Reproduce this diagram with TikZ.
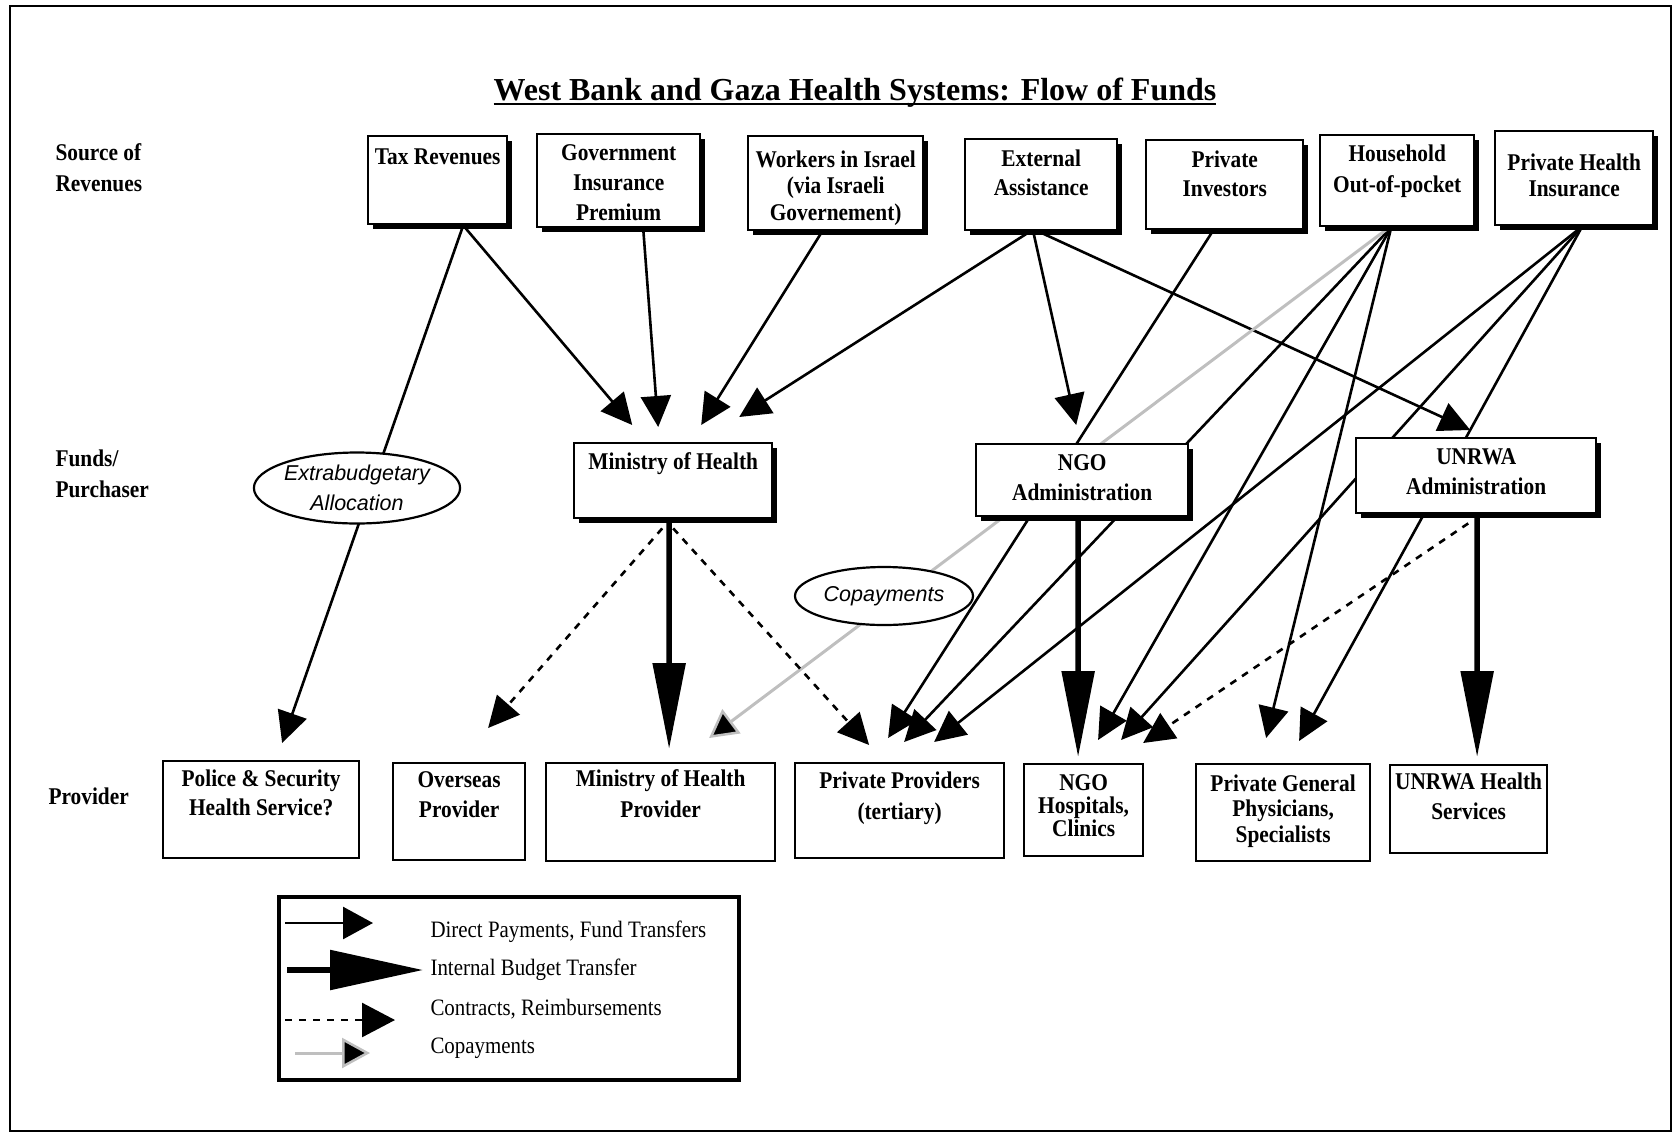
\documentclass[tikz,border=0pt]{standalone}
\usepackage{fontspec}
\setmainfont{Liberation Serif}
\newfontfamily\narrowserif[FakeStretch=0.89]{Liberation Serif}
\newfontfamily\ovalsans{Liberation Sans}
\newsavebox{\titlebox}
\newcommand{\ruledtitle}[1]{\sbox{\titlebox}{#1}\rlap{\rule[-5pt]{\wd\titlebox}{2pt}}\usebox{\titlebox}}
\usetikzlibrary{arrows.meta,shapes.geometric,shadows,backgrounds}

\begin{document}
\begin{tikzpicture}[
    x=1pt, y=-1pt,
    lead/.style={font=\narrowserif\bfseries\fontsize{24}{#1}\selectfont},
    srcbox/.style={draw, line width=2.4pt, fill=white, align=center, anchor=north west, inner sep=0pt, lead=30,
        drop shadow={opacity=1, fill=black, shadow xshift=5pt, shadow yshift=-5pt}},
    provbox/.style={draw, line width=2.2pt, fill=white, align=center, anchor=north west, inner sep=0pt, lead=30},
    oval/.style={ellipse, draw, line width=2.2pt, fill=white, inner sep=0pt, align=center,
        font=\ovalsans\itshape\fontsize{21.5}{30}\selectfont},
    rowlabel/.style={anchor=base west, align=left, lead=31},
    keytext/.style={anchor=base west, font=\narrowserif\fontsize{23.5}{28}\selectfont},
    flow/.style={line width=2.6pt, -{Triangle[length=31pt,width=30pt]}},
    budget/.style={line width=5.5pt, -{Triangle[length=86pt,width=32pt]}},
    contract/.style={line width=2.6pt, dash pattern=on 7pt off 7pt, -{Triangle[length=31pt,width=30pt]}},
    copay/.style={line width=3pt, draw=gray!50, -{Triangle[length=28pt,width=30pt,fill=black,line width=2.5pt]}}
]
\useasboundingbox (0,0) rectangle (1677,1135);

% title
\node[anchor=base, font=\bfseries\fontsize{32}{38}\selectfont] (title) at (855,100)
    {\ruledtitle{West Bank and Gaza Health Systems: Flow of Funds}};

% row labels
\node[rowlabel] (srclabel) at (52,191) {Source of\\Revenues};
\node[rowlabel] (fundlabel) at (52,497) {Funds/\\Purchaser};
\node[rowlabel] (provlabel) at (45,804) {Provider};

% sources of revenues
\node[srcbox, minimum width=139pt, text height=28pt, text depth=60pt] (tax) at (367,135) {Tax Revenues};
\node[srcbox, minimum width=163pt, text height=86.5pt, text depth=6.5pt] (gov) at (536,133) {Government\\Insurance\\Premium};
\node[srcbox, lead=26.5, minimum width=175pt, text height=84pt, text depth=10pt] (workers) at (747,135) {Workers in Israel\\(via Israeli\\Governement)};
\node[srcbox, lead=29, minimum width=152pt, text height=56pt, text depth=35pt] (ext) at (964,138) {External\\Assistance};
\node[srcbox, lead=29, minimum width=157pt, text height=56pt, text depth=33pt] (privinv) at (1145,139) {Private\\Investors};
\node[srcbox, lead=31, minimum width=154pt, text height=57pt, text depth=34pt] (household) at (1319,134) {Household\\Out-of-pocket};
\node[srcbox, lead=26, minimum width=158pt, text height=65pt, text depth=29pt] (phi) at (1494,130) {Private Health\\Insurance};

% funds / purchasers
\node[srcbox, minimum width=198pt, text height=26pt, text depth=49pt] (moh) at (573,442) {Ministry of Health};
\node[srcbox, minimum width=212pt, text height=56pt, text depth=16pt] (ngo) at (975,443) {NGO\\Administration};
\node[srcbox, minimum width=240pt, text height=56pt, text depth=19pt] (unrwa) at (1355,437) {UNRWA\\Administration};

% providers
\node[provbox, lead=29, minimum width=196pt, text height=54pt, text depth=43pt] (police) at (162,760) {Police \& Security\\Health Service?};
\node[provbox, minimum width=132pt, text height=54pt, text depth=43pt] (overseas) at (392,762) {Overseas\\Provider};
\node[provbox, lead=31, minimum width=229pt, text height=54pt, text depth=44pt] (mohprov) at (545,762) {Ministry of Health\\Provider};
\node[provbox, lead=31, minimum width=209pt, text height=56pt, text depth=39pt] (privprov) at (794,762) {Private Providers\\(tertiary)};
\node[provbox, lead=23, minimum width=119pt, text height=72pt, text depth=20pt] (ngohosp) at (1023,763) {NGO\\Hospitals,\\Clinics};
\node[provbox, lead=25.5, minimum width=174pt, text height=78pt, text depth=19pt] (privgp) at (1195,763) {Private General\\Physicians,\\Specialists};
\node[provbox, minimum width=157pt, text height=54pt, text depth=34pt] (unrwahs) at (1389,764) {UNRWA Health\\Services};

% labels on the flows
\node[oval, minimum width=202pt, minimum height=71pt] (extra) at (357,488) {Extrabudgetary\\Allocation};
\node[oval, minimum width=178pt, minimum height=58pt] (copaylabel) at (884,596) {Copayments};

% legend
\node[draw, line width=4pt, anchor=north west, minimum width=460pt, minimum height=183pt, inner sep=0pt] (legend) at (277,895) {};
\node[keytext] (keydirect) at (427,937) {Direct Payments, Fund Transfers};
\node[keytext] (keybudget) at (427,975) {Internal Budget Transfer};
\node[keytext] (keycontract) at (427,1015) {Contracts, Reimbursements};
\node[keytext] (keycopay) at (427,1053) {Copayments};

\begin{scope}[on background layer]
% outer frame
\draw[line width=2.5pt] (10,6) rectangle (1671,1131);

% revenues to purchasers
\draw[flow] ([xshift=25.5pt]tax.south) -- ([xshift=21pt,yshift=17pt]police.north);
\draw[flow] ([xshift=25.5pt]tax.south) -- ([xshift=-41pt,yshift=17pt]moh.north);
\draw[flow] ([xshift=24.5pt]gov.south) -- ([xshift=-15pt,yshift=15pt]moh.north);
\draw[flow] ([xshift=-13.5pt]workers.south) -- ([xshift=28pt,yshift=17pt]moh.north);
\draw[flow] ([xshift=-11pt]ext.south) -- ([xshift=66pt,yshift=25pt]moh.north);
\draw[flow] ([xshift=-8pt]ext.south) -- ([xshift=-6pt,yshift=18pt]ngo.north);
\draw[flow] ([xshift=-3pt]ext.south) -- ([xshift=-6pt,yshift=7pt]unrwa.north);

% private money straight to providers
\draw[flow] ([xshift=-11.5pt]privinv.south) -- ([xshift=-11.5pt,yshift=24pt]privprov.north);
\draw[flow] ([xshift=-6pt]household.south) -- ([xshift=4.5pt,yshift=20pt]privprov.north);
\draw[flow] ([xshift=-6pt]household.south) -- ([xshift=14.5pt,yshift=23pt]ngohosp.north);
\draw[flow] ([xshift=-6pt]household.south) -- ([xshift=-17pt,yshift=25pt]privgp.north);
\draw[copay] ([xshift=-8pt]household.south) -- ([xshift=48.5pt,yshift=24pt]mohprov.north);
\draw[flow] ([xshift=8pt]phi.south) -- ([xshift=34.5pt,yshift=20pt]privprov.north);
\draw[flow] ([xshift=8pt]phi.south) -- ([xshift=37.5pt,yshift=23pt]ngohosp.north);
\draw[flow] ([xshift=8pt]phi.south) -- ([xshift=16pt,yshift=22pt]privgp.north);

% purchasers to providers
\draw[budget] ([xshift=-4pt]moh.south) -- ([xshift=8.5pt,yshift=13pt]mohprov.north);
\draw[contract] ([xshift=-11pt,yshift=-9pt]moh.south) -- ([xshift=29pt,yshift=34pt]overseas.north);
\draw[contract] ([yshift=-9pt]moh.south) -- ([xshift=-30.5pt,yshift=17pt]privprov.north);
\draw[budget] ([xshift=-4pt]ngo.south) -- ([xshift=-5.5pt,yshift=6pt]ngohosp.north);
\draw[budget] ([xshift=1pt]unrwa.south) -- ([xshift=8.5pt,yshift=7pt]unrwahs.north);
\draw[contract] ([xshift=-8pt,yshift=-9pt]unrwa.south) -- ([xshift=59.5pt,yshift=20pt]ngohosp.north);
\end{scope}

% legend samples
\draw[flow, -{Triangle[length=30pt,width=32pt]}] ([xshift=-142pt,yshift=14pt]keydirect.base west) -- ([xshift=-54pt,yshift=14pt]keydirect.base west);
\draw[budget, -{Triangle[length=93pt,width=39pt]}] ([xshift=-140pt,yshift=5pt]keybudget.base west) -- ([xshift=-4pt,yshift=5pt]keybudget.base west);
\draw[contract, -{Triangle[length=33pt,width=34pt]}] ([xshift=-142pt,yshift=-5pt]keycontract.base west) -- ([xshift=-32pt,yshift=-5pt]keycontract.base west);
\draw[copay] ([xshift=-132pt]keycopay.base west) -- ([xshift=-57pt]keycopay.base west);

\end{tikzpicture}
\end{document}
